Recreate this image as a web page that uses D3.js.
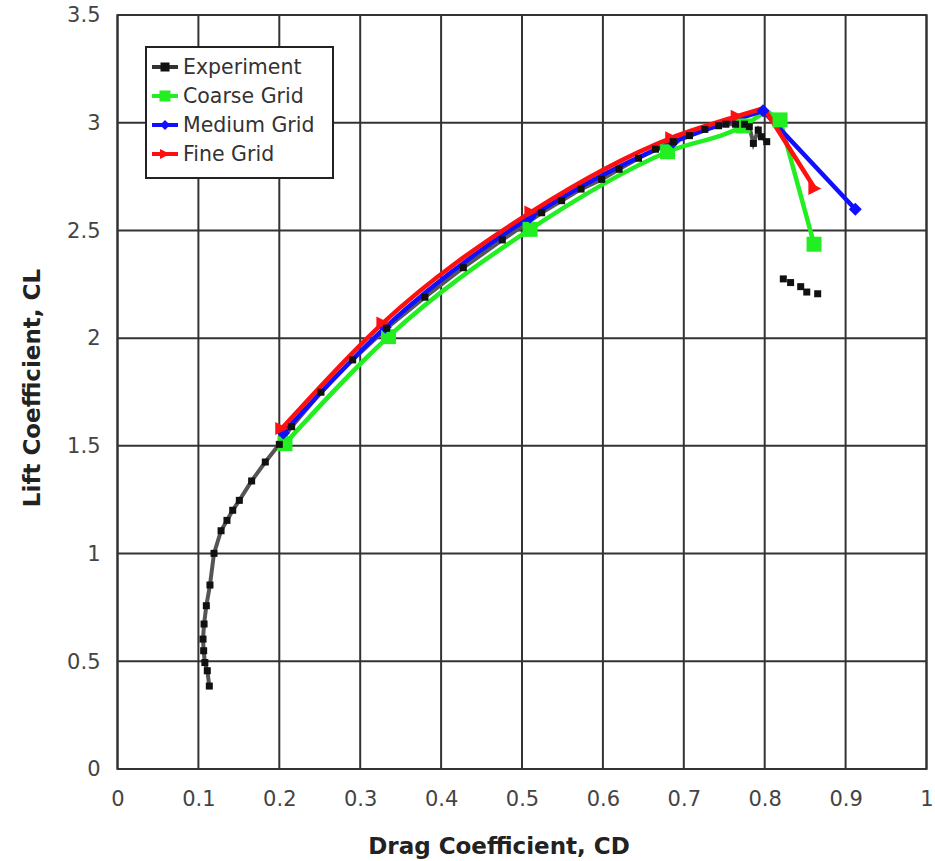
<!DOCTYPE html>
<html>
<head>
<meta charset="utf-8">
<script src="https://cdn.jsdelivr.net/npm/d3@7"></script>
<style>
  body { margin: 0; background: #fff; }
  text { font-family: "DejaVu Sans", sans-serif; }
</style>
</head>
<body>
<div id="chart"></div>
<script>
// values, [CD, CL]
var experiment = [
  [0.1135, 0.385], [0.111, 0.456], [0.108, 0.494], [0.1065, 0.549], [0.1057, 0.603],
  [0.107, 0.673], [0.1098, 0.758], [0.1143, 0.854], [0.1193, 1.001], [0.128, 1.106],
  [0.1353, 1.154], [0.1424, 1.201], [0.1506, 1.247], [0.1658, 1.337], [0.1827, 1.425],
  [0.200, 1.507], [0.2153, 1.589], [0.2515, 1.749], [0.2907, 1.899], [0.3327, 2.046],
  [0.380, 2.190], [0.4275, 2.327], [0.4757, 2.456], [0.5243, 2.582], [0.549, 2.638],
  [0.573, 2.692], [0.5985, 2.737], [0.620, 2.784], [0.644, 2.835], [0.665, 2.877],
  [0.687, 2.912], [0.707, 2.940], [0.726, 2.969], [0.743, 2.986], [0.752, 2.993],
  [0.764, 2.993], [0.775, 2.993], [0.781, 2.982], [0.786, 2.904], [0.792, 2.966],
  [0.796, 2.935], [0.8025, 2.912]
];
var experimentStall = [
  [0.823, 2.275], [0.832, 2.258], [0.8445, 2.239], [0.852, 2.214], [0.8655, 2.206]
];
// grid results (marked points) and the unmarked peak knot of each curve
var coarse = [
  [0.207, 1.51], [0.335, 2.007], [0.510, 2.505], [0.680, 2.865],
  [0.773, 2.985], [0.819, 3.013], [0.861, 2.436]
];
var coarsePeak = [0.802, 3.055];
var medium = [
  [0.205, 1.56], [0.331, 2.05], [0.510, 2.562], [0.687, 2.91],
  [0.798, 3.055], [0.912, 2.598]
];
var mediumPeak = [0.798, 3.055];
var fine = [
  [0.203, 1.58], [0.328, 2.07], [0.511, 2.585], [0.685, 2.93],
  [0.766, 3.03], [0.862, 2.695]
];
var finePeak = [0.799, 3.068];
var xTicks = [0, 0.1, 0.2, 0.3, 0.4, 0.5, 0.6, 0.7, 0.8, 0.9, 1];
var yTicks = [0, 0.5, 1, 1.5, 2, 2.5, 3, 3.5];
var legendNames = ["Experiment", "Coarse Grid", "Medium Grid", "Fine Grid"];

var W = 935, H = 861;
var margin = {top: 15, right: 8.5, bottom: 92, left: 117.5};
var width = W - margin.left - margin.right;
var height = H - margin.top - margin.bottom;

var svg = d3.select("#chart").append("svg")
    .attr("width", W)
    .attr("height", H);
var g = svg.append("g")
    .attr("transform", "translate(" + margin.left + "," + margin.top + ")");

var x = d3.scaleLinear().domain([0, 1]).range([0, width]);
var y = d3.scaleLinear().domain([0, 3.5]).range([height, 0]);

// grid
g.append("g").selectAll("line")
  .data(xTicks)
  .enter().append("line")
    .attr("x1", function(d) { return x(d); })
    .attr("x2", function(d) { return x(d); })
    .attr("y1", 0).attr("y2", height)
    .attr("stroke", "#333").attr("stroke-width", 2);
g.append("g").selectAll("line")
  .data(yTicks)
  .enter().append("line")
    .attr("y1", function(d) { return y(d); })
    .attr("y2", function(d) { return y(d); })
    .attr("x1", 0).attr("x2", width)
    .attr("stroke", "#333").attr("stroke-width", 2);
g.append("rect")
  .attr("width", width).attr("height", height)
  .attr("fill", "none").attr("stroke", "#333").attr("stroke-width", 2);

// axes (labels only)
var xAxis = g.append("g")
  .attr("transform", "translate(0," + height + ")")
  .call(d3.axisBottom(x).tickValues(xTicks).tickSize(0).tickPadding(22)
    .tickFormat(function(d) { return String(d); }));
var yAxis = g.append("g")
  .call(d3.axisLeft(y).tickValues(yTicks).tickSize(0).tickPadding(17)
    .tickFormat(function(d) { return String(d); }));
[xAxis, yAxis].forEach(function(a) {
  a.select(".domain").remove();
  a.selectAll("text")
    .attr("font-family", "DejaVu Sans, sans-serif")
    .attr("font-size", 21)
    .attr("fill", "#444");
});

svg.append("text")
  .attr("x", 499).attr("y", 854)
  .attr("text-anchor", "middle")
  .attr("font-size", 23).attr("font-weight", "bold").attr("fill", "#222")
  .text("Drag Coefficient, CD");
svg.append("text")
  .attr("transform", "translate(40,388) rotate(-90)")
  .attr("text-anchor", "middle")
  .attr("font-size", 23).attr("font-weight", "bold").attr("fill", "#222")
  .text("Lift Coefficient, CL");

// series
var cfd = [
  {data: coarse, peak: coarsePeak, color: "#22ee22", shape: "square", size: 15},
  {data: medium, peak: mediumPeak, color: "#1010ff", shape: "diamond", size: 13},
  {data: fine, peak: finePeak, color: "#ff1010", shape: "triangle", size: 13}
];

function marker(sel, shape, s) {
  if (shape == "square") {
    sel.append("rect").attr("x", -s / 2).attr("y", -s / 2).attr("width", s).attr("height", s);
  } else if (shape == "diamond") {
    sel.append("path").attr("d", "M0," + (-s / 2) + "L" + (s / 2) + ",0L0," + (s / 2) + "L" + (-s / 2) + ",0Z");
  } else {
    sel.append("path").attr("d", "M" + (-s / 2) + "," + (-s / 2) + "L" + (s / 2) + ",0L" + (-s / 2) + "," + (s / 2) + "Z");
  }
}

var smooth = d3.line()
  .x(function(d) { return x(d[0]); })
  .y(function(d) { return y(d[1]); })
  .curve(d3.curveMonotoneX);
var straight = d3.line()
  .x(function(d) { return x(d[0]); })
  .y(function(d) { return y(d[1]); });

// experiment line underneath
g.append("path")
  .datum(experiment)
  .attr("d", straight)
  .attr("fill", "none").attr("stroke", "#555").attr("stroke-width", 4);

// smooth rise up to the peak, then straight drop after stall
cfd.forEach(function(s) {
  var before = s.data.filter(function(d) { return d[0] < s.peak[0]; }).concat([s.peak]);
  var after = [s.peak].concat(s.data.filter(function(d) { return d[0] > s.peak[0]; }));
  [[before, smooth], [after, straight]].forEach(function(p) {
    g.append("path")
      .datum(p[0])
      .attr("d", p[1])
      .attr("fill", "none").attr("stroke", s.color).attr("stroke-width", 4.5)
      .attr("stroke-linejoin", "round").attr("stroke-linecap", "round");
  });
});
cfd.forEach(function(s) {
  g.append("g").selectAll("g")
    .data(s.data)
    .enter().append("g")
      .attr("transform", function(d) { return "translate(" + x(d[0]) + "," + y(d[1]) + ")"; })
      .attr("fill", s.color)
      .each(function() { marker(d3.select(this), s.shape, s.size); });
});

// experiment markers
g.append("g").selectAll("rect")
  .data(experiment.concat(experimentStall))
  .enter().append("rect")
    .attr("x", function(d) { return x(d[0]) - 3.5; })
    .attr("y", function(d) { return y(d[1]) - 3.5; })
    .attr("width", 7).attr("height", 7)
    .attr("fill", "#111");

// legend
var legend = svg.append("g").attr("transform", "translate(146,47)");
legend.append("rect")
  .attr("width", 187).attr("height", 131)
  .attr("fill", "#fff").attr("stroke", "#222").attr("stroke-width", 2);
var legendStyle = [
  {color: "#333", shape: "square", size: 9},
  {color: "#22ee22", shape: "square", size: 11},
  {color: "#1010ff", shape: "diamond", size: 10},
  {color: "#ff1010", shape: "triangle", size: 10}
];
var item = legend.selectAll("g.item")
  .data(legendNames)
  .enter().append("g")
    .attr("class", "item")
    .attr("transform", function(d, i) { return "translate(0," + (20 + i * 29) + ")"; });
item.append("line")
  .attr("x1", 6).attr("x2", 32)
  .attr("stroke", function(d, i) { return legendStyle[i].color; })
  .attr("stroke-width", 4);
item.each(function(d, i) {
  var m = d3.select(this).append("g")
    .attr("transform", "translate(19,0)")
    .attr("fill", legendStyle[i].color == "#333" ? "#111" : legendStyle[i].color);
  marker(m, legendStyle[i].shape, legendStyle[i].size);
});
item.append("text")
  .attr("x", 37).attr("y", 7)
  .attr("font-size", 20.5).attr("fill", "#333")
  .text(function(d) { return d; });
</script>
</body>
</html>
